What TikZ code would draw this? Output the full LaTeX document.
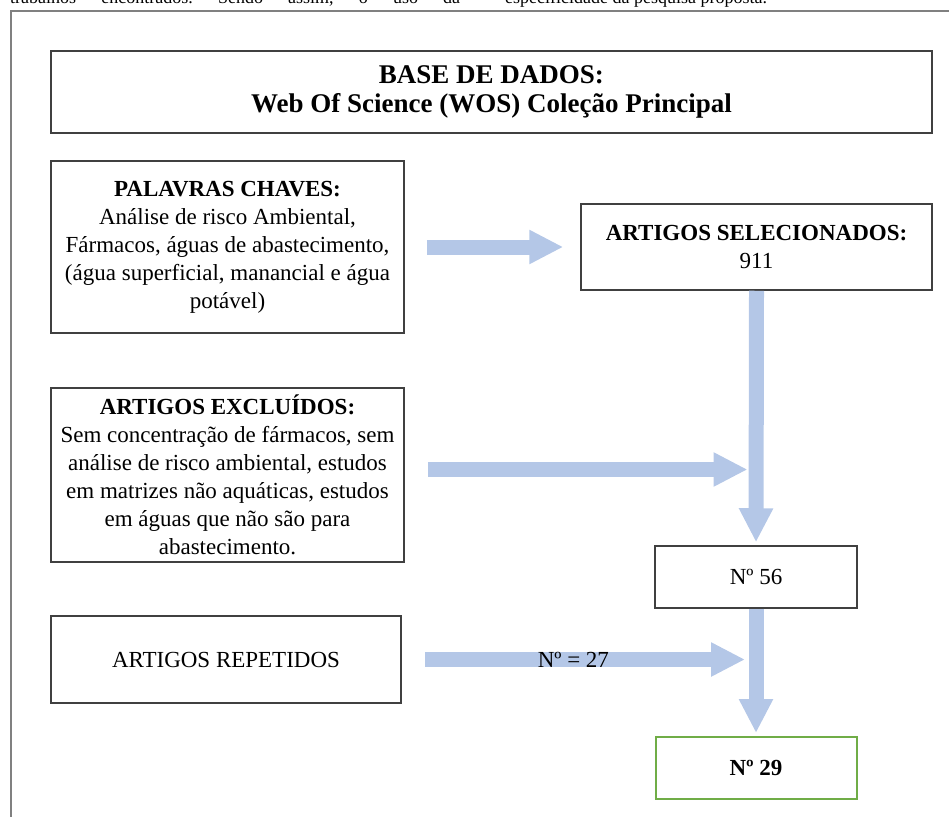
\documentclass[tikz,border=0pt]{standalone}
\usepackage{fontspec}
\setmainfont{Liberation Serif}
\usetikzlibrary{arrows.meta,calc}
\definecolor{flowblue}{RGB}{180,199,231}
\definecolor{boxgray}{RGB}{64,64,64}
\definecolor{framegray}{RGB}{128,128,128}
\definecolor{okgreen}{RGB}{112,173,71}

\begin{document}
\begin{tikzpicture}[x=1pt,y=-1pt,
  box/.style={draw=boxgray,line width=1.5pt,fill=white,align=center,inner sep=2pt,
    font=\fontsize{23}{28}\selectfont},
  flow/.style={flowblue,line width=15pt,-{Triangle[width=32pt,length=34pt]}},
  pagetext/.style={inner sep=0pt,anchor=base west,font=\fontsize{18}{20}\selectfont}]
\useasboundingbox (0,0) rectangle (949,816);
\clip (0,0) rectangle (949,816);
% page text cut off at the top
\node[pagetext,text width=450pt] (pageleft) at (10,4) {trabalhos\hfill encontrados.\hfill Sendo\hfill assim,\hfill o\hfill uso\hfill da};
\node[pagetext] (pageright) at (505,4) {especificidade da pesquisa proposta.};
\draw[framegray,line width=2pt] (11,830) -- (11,11) -- (960,11);

\node[box,minimum width=881pt,minimum height=82pt,font=\fontsize{27}{29}\selectfont\bfseries] (base) at (491.5,92) {BASE DE DADOS:\\Web Of Science (WOS) Coleção Principal};
\node[box,minimum width=353pt,minimum height=172pt] (keys) at (227.5,247) {\textbf{PALAVRAS CHAVES:}\\Análise de risco Ambiental,\\Fármacos, águas de abastecimento,\\(água superficial, manancial e água\\potável)};
\node[box,minimum width=351pt,minimum height=86pt] (selected) at (756.5,247) {\textbf{ARTIGOS SELECIONADOS:}\\911};
\node[box,minimum width=353pt,minimum height=174pt] (excluded) at (227.5,475) {\textbf{ARTIGOS EXCLUÍDOS:}\\Sem concentração de fármacos, sem\\análise de risco ambiental, estudos\\em matrizes não aquáticas, estudos\\em águas que não são para\\abastecimento.};
\node[box,minimum width=202pt,minimum height=62pt] (n56) at (756,577) {Nº 56};
\node[box,minimum width=350pt,minimum height=87pt] (repeated) at (226,659.5) {ARTIGOS REPETIDOS};
\node[box,draw=okgreen,line width=2pt,minimum width=201pt,minimum height=62pt] (n29) at (756,768) {\textbf{Nº 29}};

\draw[flow,shorten <=22pt,shorten >=17pt] (keys.east) -- (selected.west);
\draw[flow,shorten >=3pt] (selected.south) -- (n56.north);
\draw[flow,shorten <=23pt] ($(excluded.east)+(0,-5.5)$) -- ($(excluded.east -| selected.south)+(-9,-5.5)$);
\draw[flow,shorten <=23pt] (repeated.east) -- node[text=black,font=\fontsize{23}{28}\selectfont] {Nº = 27} ($(repeated.east -| n56.south)+(-11,0)$);
\draw[flow,shorten >=3pt] (n56.south) -- (n29.north);
\end{tikzpicture}
\end{document}
